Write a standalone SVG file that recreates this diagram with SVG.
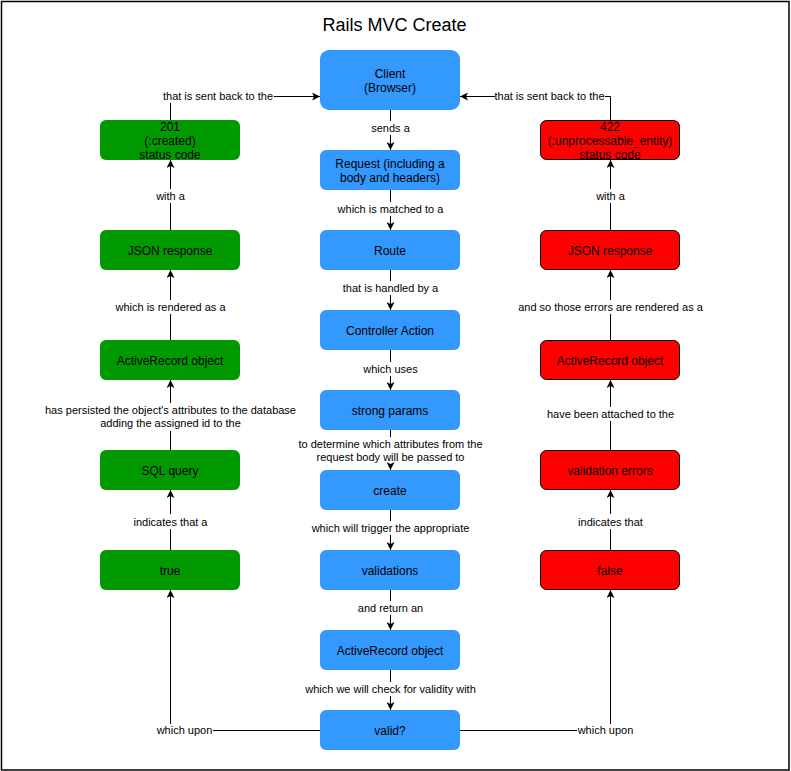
<svg xmlns="http://www.w3.org/2000/svg" width="791" height="771" viewBox="0 0 791 771">
  <style>
    text { font-family: "Liberation Sans", Arial, Helvetica, sans-serif; fill: #000; text-anchor: middle; }
    .title { font-size: 18px; }
    .node text { font-size: 12px; }
    .lbl { font-size: 11px; }
    .blue { fill: #3399FF; }
    .green { fill: #009900; }
    .red { fill: #FF0000; stroke: #000; stroke-width: 1; }
    .edge { fill: none; stroke: #000; stroke-width: 1; }
    .arrow { marker-end: url(#head); }
  </style>
  <defs>
    <marker id="head" viewBox="0 0 8 8" refX="8" refY="4" markerWidth="8" markerHeight="8" markerUnits="userSpaceOnUse" orient="auto">
      <path d="M0,0 L8,4 L0,8 L2,4 Z" fill="#000"/>
    </marker>
  </defs>

  <!-- page frame -->
  <rect x="1.5" y="1.5" width="787.5" height="768.5" fill="#fff" stroke="#000" stroke-width="1.5"/>

  <text class="title" x="394.5" y="31">Rails MVC Create</text>

  <!-- connectors -->
  <g id="connectors">
    <!-- main request flow -->
    <path class="edge" d="M390.5,110 V121"/>
    <path class="edge arrow" d="M390.5,135 V150"/>
    <text class="lbl" x="390.5" y="132">sends a</text>

    <path class="edge" d="M390.5,190 V202"/>
    <path class="edge arrow" d="M390.5,216 V230"/>
    <text class="lbl" x="390.5" y="213">which is matched to a</text>

    <path class="edge" d="M390.5,270 V281"/>
    <path class="edge arrow" d="M390.5,295 V310"/>
    <text class="lbl" x="390.5" y="292">that is handled by a</text>

    <path class="edge" d="M390.5,350 V362"/>
    <path class="edge arrow" d="M390.5,376 V390"/>
    <text class="lbl" x="390.5" y="373">which uses</text>

    <path class="edge" d="M390.5,430 V437"/>
    <path class="edge arrow" d="M390.5,464 V470"/>
    <text class="lbl" x="390.5" y="447.5">to determine which attributes from the</text>
    <text class="lbl" x="390.5" y="460.5">request body will be passed to</text>

    <path class="edge" d="M390.5,510 V521"/>
    <path class="edge arrow" d="M390.5,535 V550"/>
    <text class="lbl" x="390.5" y="532">which will trigger the appropriate</text>

    <path class="edge" d="M390.5,590 V601"/>
    <path class="edge arrow" d="M390.5,615 V630"/>
    <text class="lbl" x="390.5" y="612">and return an</text>

    <path class="edge" d="M390.5,670 V682"/>
    <path class="edge arrow" d="M390.5,696 V710"/>
    <text class="lbl" x="390.5" y="693">which we will check for validity with</text>

    <!-- valid? branches -->
    <path class="edge" d="M320,730.5 H213"/>
    <path class="edge arrow" d="M170.5,724 V590"/>
    <text class="lbl" x="184.5" y="734">which upon</text>

    <path class="edge" d="M460,730.5 H577"/>
    <path class="edge arrow" d="M610.5,724 V590"/>
    <text class="lbl" x="605.5" y="734">which upon</text>

    <!-- success path -->
    <path class="edge" d="M170.5,550 V529"/>
    <path class="edge arrow" d="M170.5,514 V490"/>
    <text class="lbl" x="170.5" y="525.5">indicates that a</text>

    <path class="edge" d="M170.5,450 V431"/>
    <path class="edge arrow" d="M170.5,403 V380"/>
    <text class="lbl" x="170.5" y="414">has persisted the object's attributes to the database</text>
    <text class="lbl" x="170.5" y="427">adding the assigned id to the</text>

    <path class="edge" d="M170.5,340 V314"/>
    <path class="edge arrow" d="M170.5,300 V270"/>
    <text class="lbl" x="170.5" y="311">which is rendered as a</text>

    <path class="edge" d="M170.5,230 V203"/>
    <path class="edge arrow" d="M170.5,189 V160"/>
    <text class="lbl" x="170.5" y="200">with a</text>

    <path class="edge" d="M170.5,120 V103"/>
    <path class="edge arrow" d="M274,96.5 H320"/>
    <text class="lbl" x="218" y="100">that is sent back to the</text>

    <!-- failure path -->
    <path class="edge" d="M610.5,550 V529"/>
    <path class="edge arrow" d="M610.5,514 V490"/>
    <text class="lbl" x="610.5" y="525.5">indicates that</text>

    <path class="edge" d="M610.5,450 V421"/>
    <path class="edge arrow" d="M610.5,407 V380"/>
    <text class="lbl" x="610.5" y="418">have been attached to the</text>

    <path class="edge" d="M610.5,340 V314"/>
    <path class="edge arrow" d="M610.5,300 V270"/>
    <text class="lbl" x="610.5" y="311">and so those errors are rendered as a</text>

    <path class="edge" d="M610.5,230 V203"/>
    <path class="edge arrow" d="M610.5,189 V160"/>
    <text class="lbl" x="610.5" y="200">with a</text>

    <path class="edge" d="M610.5,120 V96.5 H605"/>
    <path class="edge arrow" d="M495,96.5 H460"/>
    <text class="lbl" x="549.5" y="100">that is sent back to the</text>
  </g>

  <!-- request flow nodes -->
  <g id="client" class="node">
    <rect class="blue" x="320" y="50" width="140" height="60" rx="9"/>
    <text x="390" y="77.5">Client</text>
    <text x="390" y="91.5">(Browser)</text>
  </g>
  <g id="request" class="node">
    <rect class="blue" x="320" y="150" width="140" height="40" rx="6"/>
    <text x="390" y="168">Request (including a</text>
    <text x="390" y="182">body and headers)</text>
  </g>
  <g id="route" class="node">
    <rect class="blue" x="320" y="230" width="140" height="40" rx="6"/>
    <text x="390" y="254.5">Route</text>
  </g>
  <g id="controller-action" class="node">
    <rect class="blue" x="320" y="310" width="140" height="40" rx="6"/>
    <text x="390" y="334.5">Controller Action</text>
  </g>
  <g id="strong-params" class="node">
    <rect class="blue" x="320" y="390" width="140" height="40" rx="6"/>
    <text x="390" y="414.5">strong params</text>
  </g>
  <g id="create" class="node">
    <rect class="blue" x="320" y="470" width="140" height="40" rx="6"/>
    <text x="390" y="494.5">create</text>
  </g>
  <g id="validations" class="node">
    <rect class="blue" x="320" y="550" width="140" height="40" rx="6"/>
    <text x="390" y="574.5">validations</text>
  </g>
  <g id="activerecord-object" class="node">
    <rect class="blue" x="320" y="630" width="140" height="40" rx="6"/>
    <text x="390" y="654.5">ActiveRecord object</text>
  </g>
  <g id="valid" class="node">
    <rect class="blue" x="320" y="710" width="140" height="40" rx="6"/>
    <text x="390" y="734.5">valid?</text>
  </g>

  <!-- success nodes -->
  <g id="status-created" class="node">
    <rect class="green" x="100" y="120" width="140" height="40" rx="6"/>
    <text x="170" y="131">201</text>
    <text x="170" y="145">(:created)</text>
    <text x="170" y="159">status code</text>
  </g>
  <g id="json-created" class="node">
    <rect class="green" x="100" y="230" width="140" height="40" rx="6"/>
    <text x="170" y="254.5">JSON response</text>
  </g>
  <g id="activerecord-saved" class="node">
    <rect class="green" x="100" y="340" width="140" height="40" rx="6"/>
    <text x="170" y="364.5">ActiveRecord object</text>
  </g>
  <g id="sql-query" class="node">
    <rect class="green" x="100" y="450" width="140" height="40" rx="6"/>
    <text x="170" y="474.5">SQL query</text>
  </g>
  <g id="true" class="node">
    <rect class="green" x="100" y="550" width="140" height="40" rx="6"/>
    <text x="170" y="574.5">true</text>
  </g>

  <!-- failure nodes -->
  <g id="status-unprocessable" class="node">
    <rect class="red" x="540.5" y="120.5" width="139" height="39" rx="6"/>
    <text x="610" y="131">422</text>
    <text x="610" y="145">(:unprocessable_entity)</text>
    <text x="610" y="159">status code</text>
  </g>
  <g id="json-error" class="node">
    <rect class="red" x="540.5" y="230.5" width="139" height="39" rx="6"/>
    <text x="610" y="254.5">JSON response</text>
  </g>
  <g id="activerecord-invalid" class="node">
    <rect class="red" x="540.5" y="340.5" width="139" height="39" rx="6"/>
    <text x="610" y="364.5">ActiveRecord object</text>
  </g>
  <g id="validation-errors" class="node">
    <rect class="red" x="540.5" y="450.5" width="139" height="39" rx="6"/>
    <text x="610" y="474.5">validation errors</text>
  </g>
  <g id="false" class="node">
    <rect class="red" x="540.5" y="550.5" width="139" height="39" rx="6"/>
    <text x="610" y="574.5">false</text>
  </g>
</svg>
